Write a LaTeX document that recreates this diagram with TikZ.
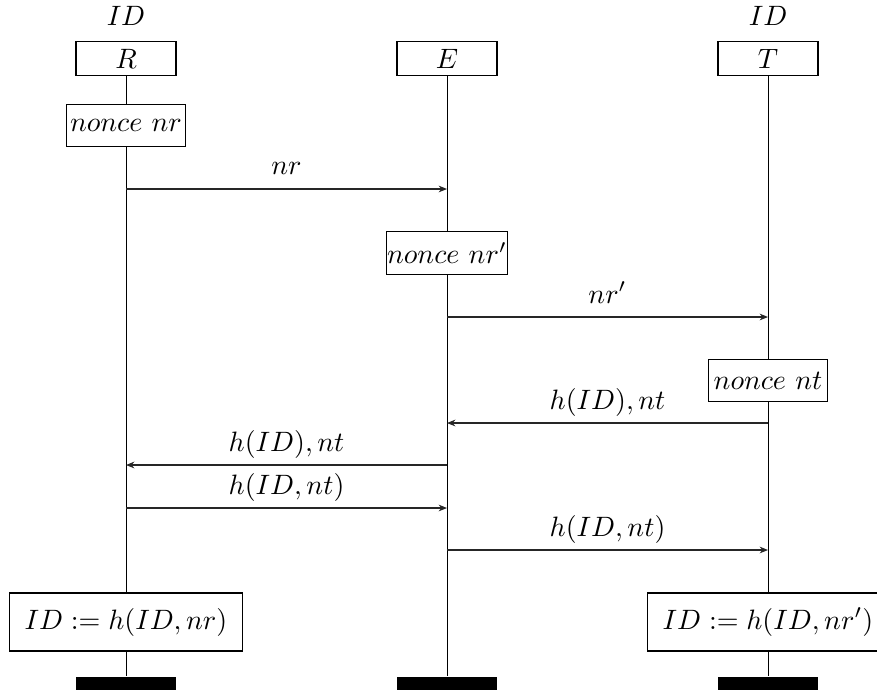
\documentclass[tikz,border=0pt]{standalone}
\usetikzlibrary{arrows.meta}
\begin{document}
\begin{tikzpicture}[x=0.357pt,y=-0.357pt,
  head/.style={draw, minimum width=35.7pt, minimum height=12.4pt, inner sep=0pt},
  act/.style={draw, fill=white, minimum width=42.5pt, minimum height=15.2pt, inner xsep=0.3pt, inner ysep=0pt},
  upd/.style={draw, minimum height=20.7pt, inner xsep=5.4pt, inner ysep=0pt},
  bar/.style={fill=black, minimum width=35.7pt, minimum height=4.8pt, inner sep=0pt},
  life/.style={line width=0.3pt},
  msg/.style={-{Stealth[length=3pt,width=2.4pt]}, line width=0.4pt, draw=black!85},
  lbl/.style={anchor=base, yshift=5pt}]
\useasboundingbox (0,0) rectangle (877,689);
% headers
\node[anchor=base] (idR) at (126,25) {$ID$};
\node[anchor=base] (idT) at (768,25) {$ID$};
\node[head] (R) at (126,58.5) {$R$};
\node[head] (E) at (447,58.5) {$E$};
\node[head] (T) at (768,58.5) {$T$};
% actions
\node[act] (nr) at (126,125.5) {$nonce\ nr$};
\node[act] (nrp) at (447,253) {$nonce\ nr'$};
\node[act] (nt) at (768,380.5) {$nonce\ nt$};
\node[upd] (updR) at (126,622) {$ID := h(ID,nr)$};
\node[upd] (updT) at (768,622) {$ID := h(ID,nr')$};
% bars
\node[bar] (barR) at (126,683.5) {};
\node[bar] (barE) at (447,683.5) {};
\node[bar] (barT) at (768,683.5) {};
% lifelines
\draw[life] (R.south) -- (nr.north);
\draw[life] (nr.south) -- (updR.north);
\draw[life] (updR.south) -- (barR.north);
\draw[life] (E.south) -- (nrp.north);
\draw[life] (nrp.south) -- (barE.north);
\draw[life] (T.south) -- (nt.north);
\draw[life] (nt.south) -- (updT.north);
\draw[life] (updT.south) -- (barT.north);
% message end points
\coordinate (r1) at (126,189);  \coordinate (e1) at (447,189);
\coordinate (e2) at (447,317);  \coordinate (t2) at (768,317);
\coordinate (t3) at (768,423);  \coordinate (e3) at (447,423);
\coordinate (e4) at (447,465);  \coordinate (r4) at (126,465);
\coordinate (r5) at (126,508);  \coordinate (e5) at (447,508);
\coordinate (e6) at (447,550);  \coordinate (t6) at (768,550);
% messages
\draw[msg] (r1) -- node[lbl] (m1) {$nr$} (e1);
\draw[msg] (e2) -- node[lbl] (m2) {$nr'$} (t2);
\draw[msg] (t3) -- node[lbl] (m3) {$h(ID),nt$} (e3);
\draw[msg] (e4) -- node[lbl] (m4) {$h(ID),nt$} (r4);
\draw[msg] (r5) -- node[lbl] (m5) {$h(ID,nt)$} (e5);
\draw[msg] (e6) -- node[lbl] (m6) {$h(ID,nt)$} (t6);
\end{tikzpicture}
\end{document}
